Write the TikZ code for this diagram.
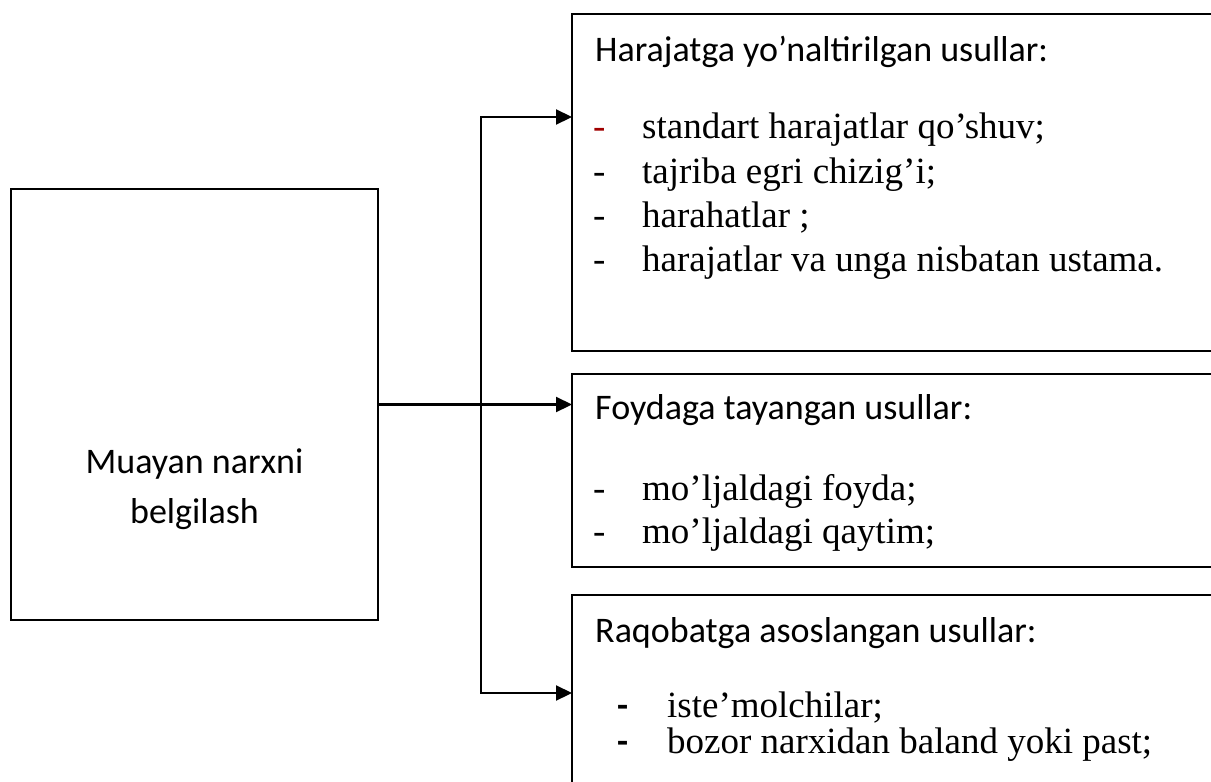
\documentclass[tikz,border=0pt]{standalone}
\usepackage{fontspec}
\setmainfont{Liberation Serif}
\newfontfamily\calfont{Carlito}
\usetikzlibrary{arrows.meta}
\definecolor{dashred}{RGB}{160,0,0}
\begin{document}
\begin{tikzpicture}[x=1pt,y=-1pt,
  frame/.style={draw, line width=2pt, inner sep=0pt, outer sep=0pt, anchor=north west},
  head/.style={inner sep=0pt, anchor=base west, font=\calfont\fontsize{36}{44}\selectfont},
  centred/.style={inner sep=0pt, anchor=base, font=\calfont\fontsize{36}{44}\selectfont},
  item/.style={inner sep=0pt, anchor=base west, font=\fontsize{37}{44}\selectfont},
  bullet/.style={inner sep=0pt, anchor=base west, font=\fontsize{37}{44}\selectfont},
  boldbullet/.style={inner sep=0pt, anchor=base west, font=\calfont\bfseries\fontsize{36}{44}\selectfont},
  tip/.tip={Triangle[length=16pt,width=15pt]},
  link/.style={line width=2.2pt},
]
\useasboundingbox (0,0) rectangle (1211,782);
\clip (0,0) rectangle (1211,782);

% source box
\node[frame, minimum width=367pt, minimum height=431pt] (src) at (11,189) {};
\node[centred] (srcA) at (194.5,473) {Muayan narxni};
\node[centred] (srcB) at (194.5,523) {belgilash};

% method boxes (running off the right edge)
\node[frame, minimum width=700pt, minimum height=337pt] (cost) at (572,14) {};
\node[frame, minimum width=700pt, minimum height=193pt] (prof) at (572,374) {};
\node[frame, minimum width=700pt, minimum height=240pt] (comp) at (572,595) {};

% cost-based methods
\node[head] (costT) at (595,61) {Harajatga yo’naltirilgan usullar:};
\node[bullet, text=dashred] (c1d) at (593,138) {-};
\node[item] (c1) at (642,138) {standart harajatlar qo’shuv;};
\node[bullet] (c2d) at (593,183) {-};
\node[item] (c2) at (642,183) {tajriba egri chizig’i;};
\node[bullet] (c3d) at (593,227) {-};
\node[item] (c3) at (642,227) {harahatlar ;};
\node[bullet] (c4d) at (593,271) {-};
\node[item] (c4) at (642,271) {harajatlar va unga nisbatan ustama.};

% profit-based methods
\node[head] (profT) at (595,419) {Foydaga tayangan usullar:};
\node[bullet] (p1d) at (593,500) {-};
\node[item] (p1) at (642,500) {mo’ljaldagi foyda;};
\node[bullet] (p2d) at (593,543) {-};
\node[item] (p2) at (642,543) {mo’ljaldagi qaytim;};

% competition-based methods
\node[head] (compT) at (595,642) {Raqobatga asoslangan usullar:};
\node[boldbullet] (k1d) at (617,717) {-};
\node[item] (k1) at (667,717) {iste’molchilar;};
\node[boldbullet] (k2d) at (617,753) {-};
\node[item] (k2) at (667,753) {bozor narxidan baland yoki past;};

% connectors
\coordinate (jtop) at (481,117);
\coordinate (jbot) at (481,693);
\draw[link, tip-tip] (jtop -| cost.west) -- (jtop) -- (jbot) -- (jbot -| comp.west);
\draw[link, -tip] (src.east) -- (src.east -| prof.west);
\end{tikzpicture}
\end{document}
